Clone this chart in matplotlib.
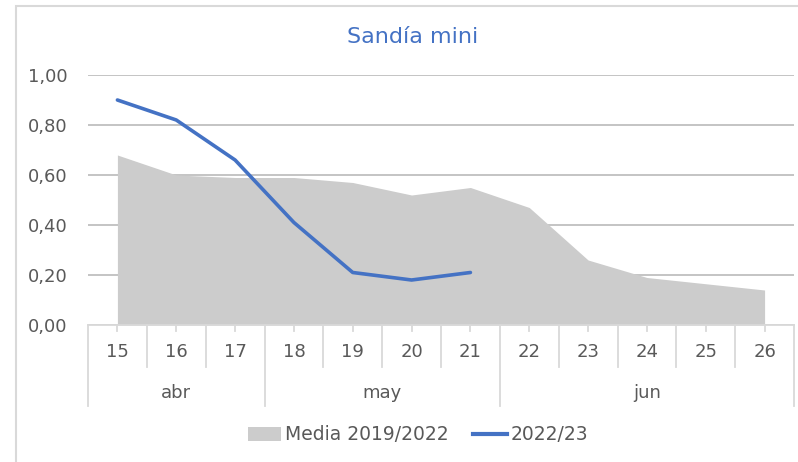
import matplotlib.pyplot as plt
from matplotlib.patches import Rectangle, Patch
from matplotlib.lines import Line2D

weeks = ['15', '16', '17', '18', '19', '20', '21', '22', '23', '24', '25', '26']
months = ['abr', 'may', 'jun']
month_counts = [3, 4, 5]
media = [0.68, 0.60, 0.59, 0.59, 0.57, 0.52, 0.55, 0.47, 0.26, 0.19, 0.165, 0.14]
temporada = [0.90, 0.82, 0.66, 0.41, 0.21, 0.18, 0.21]
yticks = [0.0, 0.2, 0.4, 0.6, 0.8, 1.0]

txt = '#595959'
blue = '#4472C4'
sep = '#D9D9D9'

plt.rcParams['font.family'] = ['DejaVu Sans']

fig = plt.figure(figsize=(7.98, 4.62), dpi=100)
W, H = 798, 462
ax = fig.add_axes([88 / W, 1 - 325 / H, (794 - 88) / W, 250 / H])

# chart border
fig.patches.append(Rectangle((16 / W, -0.1), 1.2, 1 - 6 / H + 0.1, transform=fig.transFigure,
                             fill=False, edgecolor='#D9D9D9', linewidth=1.5))

x = list(range(len(weeks)))
ax.fill_between(x, media, 0, color='#CCCCCC', linewidth=0, zorder=2)
ax.plot(x[:len(temporada)], temporada, color=blue, linewidth=2.6, zorder=3,
        solid_capstyle='round')

ax.set_xlim(-0.5, len(weeks) - 0.5)
ax.set_ylim(0, 1.0)
ax.set_yticks(yticks)
ax.set_yticklabels([f'{v:.2f}'.replace('.', ',') for v in yticks], color=txt, fontsize=13)
ax.tick_params(axis='y', length=0, pad=14.5)
ax.yaxis.grid(True, color='#BFBFBF', linewidth=1.3, zorder=1)
ax.set_axisbelow(True)
ax.set_xticks([])
for s in ['left', 'right', 'top']:
    ax.spines[s].set_visible(False)
ax.spines['bottom'].set_color(sep)
ax.spines['bottom'].set_linewidth(1.3)

tr = ax.get_xaxis_transform()
for i, w in enumerate(weeks):
    ax.text(i, -0.108, w, transform=tr, ha='center', va='center', color=txt, fontsize=13)
    ax.plot([i, i], [0, -0.022], transform=tr, color=sep, linewidth=1.3, clip_on=False)

bounds = [-0.5]
for c in month_counts:
    bounds.append(bounds[-1] + c)
for b in range(len(weeks) + 1):
    xb = b - 0.5
    long = xb in bounds
    ax.plot([xb, xb], [0, -0.324 if long else -0.168], transform=tr, color=sep,
            linewidth=1.3, clip_on=False)
for m, a, b in zip(months, bounds[:-1], bounds[1:]):
    ax.text((a + b) / 2, -0.272, m, transform=tr, ha='center', va='center', color=txt, fontsize=13)

fig.text(413 / W, 1 - 37 / H, 'Sandía mini', ha='center', va='center', color=blue, fontsize=16)

handles = [Patch(facecolor='#CCCCCC', edgecolor='none', label='Media 2019/2022'),
           Line2D([], [], color=blue, linewidth=3, label='2022/23')]
fig.legend(handles=handles, loc='center', bbox_to_anchor=(418 / W, 1 - 435 / H), ncol=2,
           frameon=False, fontsize=13.5, labelcolor=txt, handlelength=1.8, handletextpad=0.2,
           columnspacing=1.3)

fig.savefig('out.png', dpi=100)
